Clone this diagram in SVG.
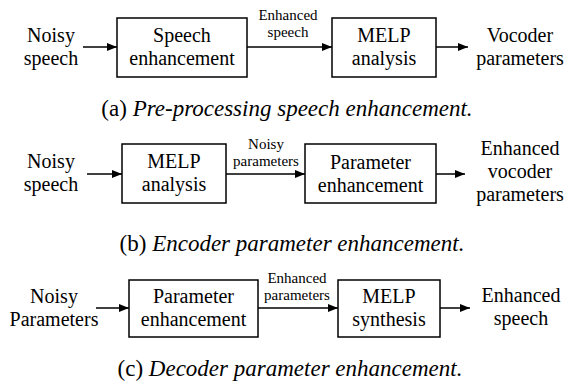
<svg xmlns="http://www.w3.org/2000/svg" width="571" height="385" viewBox="0 0 571 385">
<defs>
<marker id="ah" viewBox="0 0 10 8" refX="10" refY="4" markerWidth="10" markerHeight="8" markerUnits="userSpaceOnUse" orient="auto">
<path d="M0,0 L10,4 L0,8 Z" fill="#000"/>
</marker>
</defs>
<style>
text{font-family:"Liberation Serif",Tinos,"Noto Serif","DejaVu Serif",FreeSerif,"Times New Roman",Times,serif;fill:#000;text-anchor:middle}
.t{font-size:20px}
.s{font-size:15px}
.cap{font-size:23px}
.i{font-style:italic}
rect{fill:#fff;stroke:#000;stroke-width:1.5}
.c line{stroke:#000;stroke-width:1.5;marker-end:url(#ah)}
</style>
<rect x="0" y="0" width="571" height="385" style="stroke:none"/>
<g class="c" id="connectors">
<line x1="83" y1="47" x2="117" y2="47"/>
<line x1="247" y1="47" x2="332" y2="47"/>
<line x1="436" y1="47" x2="468" y2="47"/>
<line x1="87" y1="174" x2="122" y2="174"/>
<line x1="226" y1="174" x2="305" y2="174"/>
<line x1="436" y1="174" x2="465" y2="174"/>
<line x1="96" y1="308" x2="129" y2="308"/>
<line x1="258" y1="308" x2="338" y2="308"/>
<line x1="440" y1="308" x2="470" y2="308"/>
</g>
<g id="labels">
<text class="s" x="288" y="20">Enhanced</text>
<text class="s" x="288" y="37">speech</text>
<text class="s" x="266" y="149">Noisy</text>
<text class="s" x="266" y="166">parameters</text>
<text class="s" x="297" y="283">Enhanced</text>
<text class="s" x="297" y="300">parameters</text>
</g>
<g id="a-in"><text class="t" x="51" y="42">Noisy</text><text class="t" x="51" y="65">speech</text></g>
<g id="a-se"><rect x="117" y="18" width="130" height="59"/><text class="t" x="182" y="42">Speech</text><text class="t" x="182" y="65">enhancement</text></g>
<g id="a-melp"><rect x="332" y="18" width="104" height="59"/><text class="t" x="384" y="42">MELP</text><text class="t" x="384" y="65">analysis</text></g>
<g id="a-out"><text class="t" x="520" y="42">Vocoder</text><text class="t" x="520" y="65">parameters</text></g>
<g id="a-cap"><text class="cap" x="287" y="116">(a) <tspan class="i">Pre-processing speech enhancement.</tspan></text></g>
<g id="b-in"><text class="t" x="51" y="168">Noisy</text><text class="t" x="51" y="191">speech</text></g>
<g id="b-melp"><rect x="122" y="144" width="104" height="59"/><text class="t" x="174" y="168">MELP</text><text class="t" x="174" y="191">analysis</text></g>
<g id="b-pe"><rect x="305" y="144" width="131" height="59"/><text class="t" x="370.5" y="169">Parameter</text><text class="t" x="370.5" y="192">enhancement</text></g>
<g id="b-out"><text class="t" x="520" y="155">Enhanced</text><text class="t" x="520" y="178">vocoder</text><text class="t" x="520" y="201">parameters</text></g>
<g id="b-cap"><text class="cap" x="292" y="251">(b) <tspan class="i">Encoder parameter enhancement.</tspan></text></g>
<g id="c-in"><text class="t" x="54" y="303">Noisy</text><text class="t" x="54" y="326">Parameters</text></g>
<g id="c-pe"><rect x="129" y="280" width="129" height="57"/><text class="t" x="193.5" y="303">Parameter</text><text class="t" x="193.5" y="326">enhancement</text></g>
<g id="c-melp"><rect x="338" y="280" width="102" height="57"/><text class="t" x="389" y="303">MELP</text><text class="t" x="389" y="326">synthesis</text></g>
<g id="c-out"><text class="t" x="521" y="302">Enhanced</text><text class="t" x="521" y="325">speech</text></g>
<g id="c-cap"><text class="cap" x="290" y="376">(c) <tspan class="i">Decoder parameter enhancement.</tspan></text></g>
</svg>
